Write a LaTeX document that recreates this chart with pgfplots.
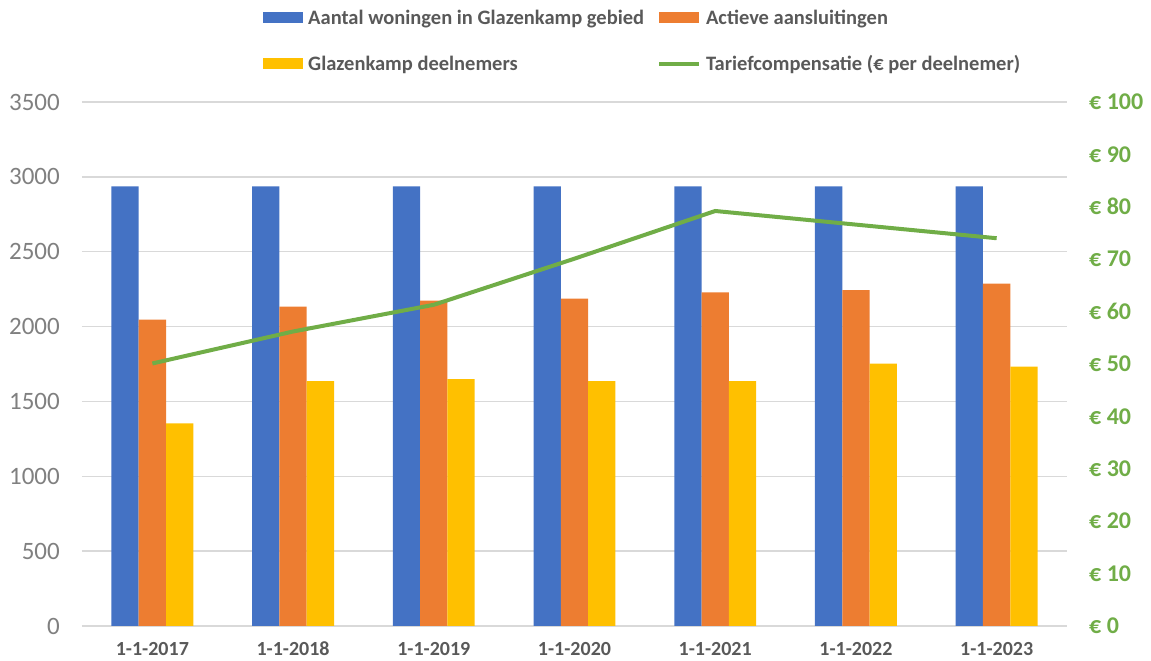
\documentclass[border=0pt]{standalone}
\usepackage{fontspec}
\setmainfont{Carlito}
\usepackage{pgfplots}
\pgfplotsset{compat=1.18}
\definecolor{cblue}{HTML}{4472C4}
\definecolor{corange}{HTML}{ED7D31}
\definecolor{cyellow}{HTML}{FFC000}
\definecolor{cgreen}{HTML}{70AD47}
\definecolor{cgrid}{HTML}{D9D9D9}
\definecolor{ctick}{HTML}{808080}
\definecolor{ctext}{HTML}{595959}
\pgfplotsset{
  barleg/.style={legend image code/.code={\fill[##1] (0pt,-5.5pt) rectangle (40pt,5.5pt);}},
  lineleg/.style={legend image code/.code={\draw[##1] (0pt,0pt) -- (40pt,0pt);}},
  common/.style={
    scale only axis, width=985pt, height=524pt,
    xmin=-0.5, xmax=6.5,
    axis line style={draw=none},
    major tick length=0pt,
    /pgf/number format/assume math mode=true,
    /pgf/number format/1000 sep={},
  },
}
\begin{document}
\begin{tikzpicture}
\useasboundingbox (-82pt,-35pt) rectangle (1069pt,626pt);
\begin{axis}[common,
  ymin=0, ymax=3500, ytick={0,500,...,3500},
  ymajorgrids, major grid style={cgrid, line width=1.3pt},
  xtick={0,...,6},
  xticklabels={1-1-2017,1-1-2018,1-1-2019,1-1-2020,1-1-2021,1-1-2022,1-1-2023},
  xticklabel style={font=\fontsize{20}{24}\selectfont\bfseries, text=ctext, anchor=base, inner sep=0pt, yshift=-30pt},
  yticklabel style={font=\fontsize{25}{29}\selectfont, text=ctick, anchor=east, inner sep=0pt, xshift=-22pt},
  ybar, bar width=27.3pt,
  legend columns=2,
  legend cell align=left,
  legend style={draw=none, fill=none, inner sep=0pt, at={(0.18376,1.1804)}, anchor=north west,
    font=\fontsize{20.5}{24}\selectfont\bfseries, text=ctext,
    nodes={inner sep=2pt},
    row sep=26pt,
    /tikz/every odd column/.append style={column sep=3pt},
    /tikz/every even column/.append style={column sep=11pt}},
]
\addplot[fill=cblue, draw=none, bar shift=-27.3pt, barleg]
  coordinates {(0,2937) (1,2937) (2,2937) (3,2937) (4,2937) (5,2937) (6,2937)};
\addlegendentry{Aantal woningen in Glazenkamp gebied}
\addplot[fill=corange, draw=none, bar shift=0pt, barleg]
  coordinates {(0,2047) (1,2133) (2,2173) (3,2187) (4,2229) (5,2244) (6,2287)};
\addlegendentry{Actieve aansluitingen}
\addplot[fill=cyellow, draw=none, bar shift=27.3pt, barleg]
  coordinates {(0,1353) (1,1636) (2,1649) (3,1636) (4,1636) (5,1753) (6,1733)};
\addlegendentry{Glazenkamp deelnemers}
\addlegendimage{lineleg, cgreen, line width=4pt}
\addlegendentry{Tariefcompensatie (€ per deelnemer)}
\end{axis}
\begin{axis}[common,
  ymin=0, ymax=100, ytick={0,10,...,100},
  axis y line*=right, axis line style={draw=none},
  xtick=\empty,
  yticklabel={€ \pgfmathprintnumber{\tick}},
  yticklabel style={font=\fontsize{24}{28}\selectfont\bfseries, text=cgreen, anchor=west, inner sep=0pt, xshift=22pt},
]
\addplot[cgreen, line width=4pt, mark=none]
  coordinates {(0,50.1) (1,56.2) (2,61.3) (3,70.1) (4,79.2) (5,76.6) (6,74.0)};
\end{axis}
\end{tikzpicture}
\end{document}
